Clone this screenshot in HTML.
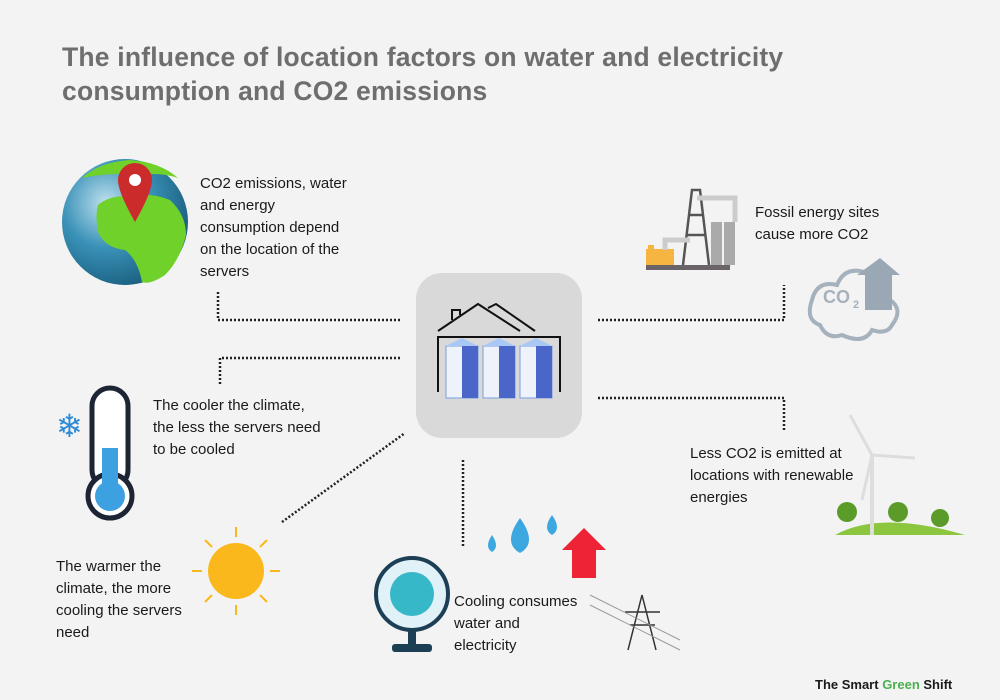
<!DOCTYPE html>
<html><head><meta charset="utf-8"><style>
body{margin:0;width:1000px;height:700px;background:#f3f3f3;font-family:"Liberation Sans",sans-serif;overflow:hidden;position:relative}
.t{position:absolute;font-size:15px;line-height:22px;color:#1a1a1a}
h1{position:absolute;left:62px;top:40px;margin:0;font-size:26.5px;line-height:34px;color:#6e6e6e;font-weight:bold;width:820px;letter-spacing:0.2px}
</style></head><body>
<h1>The influence of location factors on water and electricity consumption and CO2 emissions</h1>
<svg width="1000" height="700" style="position:absolute;left:0;top:0">
<defs>
<radialGradient id="g" cx="35%" cy="35%" r="70%"><stop offset="0" stop-color="#bfe0ee"/><stop offset=".5" stop-color="#3a92b8"/><stop offset="1" stop-color="#1a5f80"/></radialGradient>
</defs>
<g stroke="#222" stroke-width="2.5" stroke-dasharray="2,2" fill="none">
<polyline points="218,292 218,320 400,320"/>
<polyline points="400,358 220,358 220,386"/>
<line x1="282" y1="522" x2="405" y2="433"/>
<line x1="463" y1="460" x2="463" y2="548"/>
<polyline points="598,320 784,320 784,285"/>
<polyline points="598,398 784,398 784,430"/>
</g>
<!-- globe -->
<circle cx="125" cy="222" r="63" fill="url(#g)"/>
<path d="M98,205 Q110,195 130,196 Q150,192 170,200 Q186,215 186,235 Q180,260 165,275 Q150,285 142,282 Q138,260 125,250 Q105,248 98,232 Q95,215 98,205Z" fill="#6fd12a"/>
<path d="M82,178 Q100,162 130,160 Q160,162 178,178 Q160,172 140,175 Q110,172 82,178Z" fill="#6fd12a"/>
<path d="M118,180 A17,17 0 1,1 152,180 Q152,192 135,222 Q118,192 118,180Z" fill="#cc2b2b"/>
<circle cx="135" cy="180" r="6" fill="#fff"/>
<!-- center box -->
<rect x="416" y="273" width="166" height="165" rx="26" fill="#d9d9d9"/>
<g stroke="#111" stroke-width="2" fill="none">
<polyline points="438,331 478,304 520,331"/><polyline points="488,308 496,304 535,331"/>
<polyline points="452,320 452,310 460,310 460,315"/>
<polyline points="438,392 438,337 560,337 560,392"/>
</g>
<g>
<rect x="446" y="346" width="32" height="52" fill="#eef3fb" stroke="#7a9ee0"/><rect x="462" y="346" width="16" height="52" fill="#4a66c8"/><path d="M446,346 l16,-8 16,8z" fill="#a9c8f5"/>
<rect x="483" y="346" width="32" height="52" fill="#eef3fb" stroke="#7a9ee0"/><rect x="499" y="346" width="16" height="52" fill="#4a66c8"/><path d="M483,346 l16,-8 16,8z" fill="#a9c8f5"/>
<rect x="520" y="346" width="32" height="52" fill="#eef3fb" stroke="#7a9ee0"/><rect x="536" y="346" width="16" height="52" fill="#4a66c8"/><path d="M520,346 l16,-8 16,8z" fill="#a9c8f5"/>
</g>
<!-- factory -->
<rect x="646" y="265" width="84" height="5" fill="#6a6468"/>
<rect x="646" y="249" width="28" height="16" fill="#f5b540"/><rect x="648" y="245" width="6" height="6" fill="#f5b540"/>
<path d="M683,265 L692,190 L700,190 L709,265 M687,235 L705,235 M689,215 L703,215" stroke="#555" stroke-width="2.5" fill="none"/>
<path d="M665,250 V240 H690" stroke="#ccc" stroke-width="5" fill="none"/>
<rect x="711" y="222" width="11" height="43" fill="#aaa"/><rect x="724" y="222" width="11" height="43" fill="#aaa"/>
<path d="M697,198 H735 V222" stroke="#ccc" stroke-width="5" fill="none"/>
<!-- co2 cloud -->
<path d="M820,325 q-15,-5 -8,-25 q5,-20 25,-15 q8,-20 30,-12 q20,5 20,25 q18,10 5,27 q-5,10 -20,5 q-8,15 -30,5 q-15,5 -22,-10z" fill="none" stroke="#a5b2bd" stroke-width="4"/>
<text x="823" y="303" font-family="Liberation Sans" font-size="18" font-weight="bold" fill="#a5b2bd">CO</text><text x="853" y="308" font-size="11" font-weight="bold" fill="#a5b2bd">2</text>
<path d="M865,310 V275 H857 L880,258 L900,275 H892 V310Z" fill="#9aa8b5"/>
<!-- thermometer -->
<rect x="92" y="388" width="36" height="100" rx="18" fill="#fff" stroke="#1d2433" stroke-width="5"/>
<circle cx="110" cy="496" r="22" fill="#fff" stroke="#1d2433" stroke-width="5"/>
<rect x="102" y="448" width="16" height="45" fill="#3da0e0"/><circle cx="110" cy="496" r="15" fill="#3da0e0"/>
<text x="56" y="437" font-size="32" fill="#2d8ad6">❄</text>
<!-- sun -->
<circle cx="236" cy="571" r="28" fill="#fbb81c"/>
<g stroke="#fbb81c" stroke-width="2">
<line x1="236" y1="527" x2="236" y2="537"/><line x1="236" y1="605" x2="236" y2="615"/><line x1="192" y1="571" x2="202" y2="571"/><line x1="270" y1="571" x2="280" y2="571"/>
<line x1="205" y1="540" x2="212" y2="547"/><line x1="260" y1="595" x2="267" y2="602"/><line x1="267" y1="540" x2="260" y2="547"/><line x1="205" y1="602" x2="212" y2="595"/>
</g>
<!-- drops & arrow -->
<path d="M520,518 q-18,25 0,35 q18,-10 0,-35z" fill="#3da8e0"/><path d="M492,535 q-8,12 0,17 q8,-5 0,-17z" fill="#3da8e0"/><path d="M552,515 q-10,14 0,20 q10,-6 0,-20z" fill="#3da8e0"/>
<path d="M572,578 V550 H562 L584,528 L606,550 H596 V578Z" fill="#ee2436"/>
<!-- fan -->
<circle cx="412" cy="594" r="36" fill="#e0f2f7" stroke="#1d3f55" stroke-width="4"/>
<circle cx="412" cy="594" r="22" fill="#36b8c8"/>
<rect x="408" y="630" width="8" height="15" fill="#1d3f55"/><rect x="392" y="644" width="40" height="8" rx="3" fill="#1d3f55"/>
<!-- pylon -->
<path d="M628,650 L642,595 L656,650 M625,612 H660 M630,625 H655" stroke="#333" stroke-width="1.5" fill="none"/>
<path d="M590,595 L680,640 M590,605 L680,650" stroke="#999" stroke-width="1"/>
<!-- wind turbine -->
<path d="M835,535 Q880,510 965,535Z" fill="#8cc63f"/>
<rect x="870" y="455" width="4" height="80" fill="#ddd"/>
<path d="M872,455 L850,415 M872,455 L915,458 M872,455 L862,500" stroke="#ddd" stroke-width="3"/>
<circle cx="847" cy="512" r="10" fill="#5a9b2a"/><circle cx="898" cy="512" r="10" fill="#5a9b2a"/><circle cx="940" cy="518" r="9" fill="#5a9b2a"/>
</svg>
<div class="t" style="left:200px;top:173px">CO2 emissions, water<br>and energy<br>consumption depend<br>on the location of the<br>servers</div>
<div class="t" style="left:755px;top:202px">Fossil energy sites<br>cause more CO2</div>
<div class="t" style="left:153px;top:395px">The cooler the climate,<br>the less the servers need<br>to be cooled</div>
<div class="t" style="left:690px;top:443px">Less CO2 is emitted at<br>locations with renewable<br>energies</div>
<div class="t" style="left:56px;top:556px">The warmer the<br>climate, the more<br>cooling the servers<br>need</div>
<div class="t" style="left:454px;top:591px">Cooling consumes<br>water and<br>electricity</div>
<div class="t" style="left:815px;top:677px;font-size:13px;font-weight:bold;line-height:16px">The Smart <span style="color:#4caf50">Green</span> Shift</div>
</body></html>
